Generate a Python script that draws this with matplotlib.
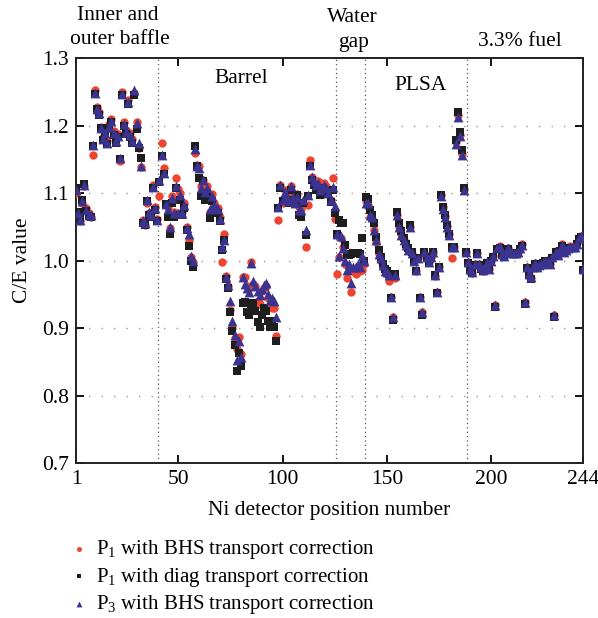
import matplotlib
matplotlib.use("Agg")
import matplotlib.pyplot as plt

plt.rcParams['font.family'] = ['Liberation Serif', 'DejaVu Serif']
plt.rcParams['mathtext.fontset'] = 'custom'
plt.rcParams['mathtext.rm'] = 'Liberation Serif'
plt.rcParams['mathtext.it'] = 'Liberation Serif:italic'

positions = list(range(1, 245))

p3_bhs = [
    1.105, 1.070, 1.060, 1.088, 1.112, 1.075, 1.068, 1.067, 1.171, 1.248,
    1.225, 1.218, 1.196, 1.180, 1.189, 1.174, 1.198, 1.207, 1.189, 1.177,
    1.185, 1.152, 1.247, 1.202, 1.191, 1.235, 1.186, 1.177, 1.253, 1.203,
    1.174, 1.140, 1.058, 1.055, 1.090, 1.072, 1.067, 1.109, 1.078, 1.060,
    1.119, 1.156, 1.129, 1.084, 1.076, 1.050, 1.093, 1.070, 1.110, 1.070,
    1.097, 1.070, 1.082, 1.048, 1.040, 1.006, 1.000, 1.165, 1.140, 1.137,
    1.107, 1.120, 1.102, 1.107, 1.077, 1.095, 1.082, 1.080, 1.077, 1.062,
    1.020, 1.031, 0.976, 0.963, 0.940, 0.910, 0.890, 0.853, 0.881, 0.857,
    0.976, 0.965, 0.960, 0.954, 0.997, 0.969, 0.962, 0.955, 0.949, 0.958,
    0.964, 0.966, 0.951, 0.941, 0.945, 0.940, 0.917, 1.080, 1.112, 1.090,
    1.102, 1.094, 1.088, 1.110, 1.094, 1.085, 1.094, 1.075, 1.075, 1.090,
    1.045, 1.097, 1.141, 1.124, 1.118, 1.112, 1.115, 1.105, 1.107, 1.112,
    1.109, 1.100, 1.090, 1.109, 1.081, 1.039, 1.006, 1.036, 1.018, 1.000,
    0.986, 0.995, 0.966, 0.990, 0.990, 0.995, 0.991, 1.006, 0.999, 1.085,
    1.085, 1.067, 1.065, 1.045, 1.030, 1.010, 1.003, 0.993, 0.985, 0.983,
    0.979, 0.946, 0.916, 0.979, 1.067, 1.049, 1.038, 1.030, 1.023, 1.016,
    1.050, 1.011, 1.000, 0.986, 1.003, 0.946, 0.923, 1.012, 1.005, 0.998,
    1.005, 1.013, 0.979, 0.954, 0.990, 1.095, 1.077, 1.065, 1.050, 1.038,
    1.020, 1.020, 1.173, 1.213, 1.184, 1.156, 1.105, 1.013, 0.998, 0.988,
    0.983, 0.995, 1.011, 0.995, 0.990, 0.986, 0.990, 0.998, 0.988, 1.000,
    1.006, 0.934, 1.018, 1.020, 1.010, 1.006, 1.012, 1.018, 1.012, 1.011,
    1.011, 1.011, 1.012, 1.018, 1.023, 0.939, 0.991, 0.980, 0.976, 0.990,
    0.996, 0.990, 0.993, 0.995, 0.997, 1.000, 1.000, 0.995, 1.005, 0.919,
    1.013, 1.008, 1.015, 1.023, 1.012, 1.015, 1.018, 1.020, 1.020, 1.020,
    1.025, 1.033, 1.036, 0.988,
]

p1_bhs = [
    1.100, 1.065, 1.058, 1.085, 1.110, 1.078, 1.070, 1.065, 1.156, 1.252,
    1.228, 1.220, 1.198, 1.183, 1.192, 1.177, 1.202, 1.210, 1.192, 1.180,
    1.188, 1.148, 1.250, 1.205, 1.194, 1.238, 1.189, 1.180, 1.248, 1.205,
    1.166, 1.138, 1.060, 1.052, 1.085, 1.070, 1.070, 1.112, 1.080, 1.062,
    1.096, 1.174, 1.137, 1.083, 1.080, 1.048, 1.095, 1.072, 1.122, 1.106,
    1.100, 1.072, 1.085, 1.050, 1.030, 1.005, 0.998, 1.160, 1.142, 1.140,
    1.110, 1.120, 1.104, 1.110, 1.072, 1.098, 1.085, 1.080, 1.078, 1.065,
    0.998, 1.039, 0.977, 0.962, 0.926, 0.900, 0.885, 0.869, 0.886, 0.862,
    0.975, 0.975, 0.962, 0.960, 0.998, 0.965, 0.962, 0.940, 0.935, 0.955,
    0.960, 0.962, 0.945, 0.932, 0.930, 0.930, 0.888, 1.060, 1.112, 1.085,
    1.104, 1.098, 1.090, 1.110, 1.094, 1.090, 1.098, 1.080, 1.076, 1.085,
    1.020, 1.082, 1.149, 1.124, 1.120, 1.115, 1.118, 1.108, 1.110, 1.115,
    1.110, 1.105, 1.090, 1.122, 1.061, 0.980, 1.005, 1.033, 1.020, 0.995,
    0.974, 0.990, 0.954, 0.985, 0.980, 0.992, 0.985, 0.986, 0.995, 1.088,
    1.082, 1.065, 1.062, 1.045, 1.028, 1.010, 1.000, 0.990, 0.985, 0.980,
    0.970, 0.946, 0.917, 0.974, 1.068, 1.050, 1.040, 1.030, 1.022, 1.015,
    1.050, 1.010, 1.000, 0.984, 1.003, 0.946, 0.923, 1.012, 1.005, 0.998,
    1.005, 1.013, 0.977, 0.954, 0.990, 1.097, 1.079, 1.066, 1.051, 1.039,
    1.004, 1.020, 1.175, 1.215, 1.186, 1.158, 1.106, 1.013, 0.998, 0.986,
    0.981, 0.995, 1.011, 0.995, 0.988, 0.984, 0.990, 0.998, 0.988, 1.000,
    1.006, 0.934, 1.019, 1.021, 1.010, 1.006, 1.012, 1.019, 1.012, 1.011,
    1.011, 1.011, 1.013, 1.019, 1.024, 0.939, 0.990, 0.978, 0.974, 0.990,
    0.996, 0.990, 0.993, 0.995, 0.997, 1.000, 1.001, 0.995, 1.005, 0.919,
    1.014, 1.008, 1.015, 1.024, 1.012, 1.015, 1.018, 1.021, 1.020, 1.021,
    1.026, 1.034, 1.037, 0.988,
]

p1_diag = [
    1.108, 1.072, 1.062, 1.090, 1.113, 1.073, 1.066, 1.064, 1.170, 1.246,
    1.225, 1.216, 1.196, 1.178, 1.187, 1.172, 1.196, 1.205, 1.186, 1.174,
    1.183, 1.150, 1.245, 1.200, 1.188, 1.232, 1.183, 1.174, 1.245, 1.195,
    1.167, 1.152, 1.056, 1.053, 1.088, 1.068, 1.064, 1.107, 1.075, 1.058,
    1.117, 1.155, 1.128, 1.083, 1.065, 1.040, 1.085, 1.064, 1.108, 1.068,
    1.090, 1.068, 1.078, 1.045, 1.022, 1.000, 0.991, 1.169, 1.140, 1.122,
    1.095, 1.118, 1.089, 1.100, 1.063, 1.088, 1.075, 1.072, 1.070, 1.058,
    1.015, 1.030, 0.972, 0.960, 0.923, 0.896, 0.875, 0.836, 0.863, 0.843,
    0.937, 0.938, 0.923, 0.919, 0.930, 0.937, 0.925, 0.909, 0.902, 0.920,
    0.930, 0.925, 0.910, 0.902, 0.910, 0.902, 0.881, 1.078, 1.108, 1.088,
    1.090, 1.090, 1.085, 1.105, 1.089, 1.086, 1.097, 1.067, 1.064, 1.085,
    1.038, 1.095, 1.140, 1.120, 1.112, 1.105, 1.108, 1.097, 1.100, 1.105,
    1.103, 1.098, 1.087, 1.105, 1.070, 1.040, 1.060, 1.055, 1.055, 1.023,
    1.008, 1.008, 1.010, 1.011, 1.011, 1.011, 1.010, 1.033, 1.000, 1.094,
    1.091, 1.075, 1.068, 1.055, 1.035, 1.015, 1.005, 0.995, 0.988, 0.985,
    0.980, 0.944, 0.912, 0.980, 1.072, 1.055, 1.043, 1.033, 1.025, 1.018,
    1.052, 1.012, 1.000, 0.985, 1.003, 0.944, 0.920, 1.012, 1.005, 0.998,
    1.005, 1.013, 0.979, 0.952, 0.990, 1.097, 1.079, 1.067, 1.052, 1.040,
    1.020, 1.020, 1.178, 1.220, 1.191, 1.163, 1.108, 1.013, 0.996, 0.986,
    0.981, 0.994, 1.011, 0.994, 0.988, 0.984, 0.989, 0.997, 0.987, 0.999,
    1.005, 0.931, 1.017, 1.019, 1.009, 1.005, 1.011, 1.017, 1.011, 1.010,
    1.010, 1.010, 1.011, 1.017, 1.022, 0.936, 0.989, 0.978, 0.973, 0.989,
    0.995, 0.989, 0.992, 0.994, 0.996, 0.999, 0.999, 0.994, 1.004, 0.916,
    1.012, 1.007, 1.014, 1.022, 1.011, 1.014, 1.017, 1.019, 1.019, 1.019,
    1.024, 1.032, 1.035, 0.986,
]

series_labels = [r"P$_1$ with BHS transport correction",
                 r"P$_1$ with diag transport correction",
                 r"P$_3$ with BHS transport correction"]
region_bounds = [40.5, 125.5, 139.5, 188.5]
x_ticks = [1, 50, 100, 150, 200, 244]
y_ticks = [0.7, 0.8, 0.9, 1.0, 1.1, 1.2, 1.3]

W, H = 598, 618
FS = 15.5
fig = plt.figure(figsize=(W / 100, H / 100), dpi=100)
ax = fig.add_axes([76 / W, 1 - 463 / H, (583 - 76) / W, (463 - 58) / H])

red = '#EE4430'
blk = '#1E1E1E'
blu = '#3A3390'

ax.scatter(positions, p1_bhs, s=36, marker='o', color=red, linewidths=0, zorder=3, label=series_labels[0])
ax.scatter(positions, p1_diag, s=30, marker='s', color=blk, linewidths=0, zorder=4, label=series_labels[1])
ax.scatter(positions, p3_bhs, s=50, marker='^', color=blu, linewidths=0, zorder=5, label=series_labels[2])

for yv in y_ticks[1:-1]:
    ax.axhline(yv, color='#9a9a9a', lw=1.0, ls=(0, (1, 8)), zorder=1)
for xb in region_bounds:
    ax.axvline(xb, color='#555555', lw=0.9, ls=(0, (1, 2.5)), zorder=1)

ax.set_xlim(1, 244)
ax.set_ylim(0.7, 1.3)
ax.set_xticks(x_ticks)
ax.set_yticks(y_ticks)
ax.set_yticklabels([f"{v:.1f}" for v in y_ticks])
ax.tick_params(direction='in', top=True, right=True, length=6, width=1.3, labelsize=FS, pad=5)
for sp in ax.spines.values():
    sp.set_linewidth(1.4)
    sp.set_color('#222222')

ax.set_xlabel("Ni detector position number", fontsize=FS, labelpad=9)
ax.set_ylabel("C/E value", fontsize=FS, labelpad=7)

ax.text(80.0, 1.27, "Barrel", fontsize=FS, ha='center', va='center')
ax.text(166, 1.26, "PLSA", fontsize=FS, ha='center', va='center')

def ftext(px, py, s):
    fig.text(px / W, 1 - py / H, s, fontsize=FS, ha='center', va='center')

ftext(118, 15, "Inner and")
ftext(120, 40, "outer baffle")
ftext(352, 17, "Water")
ftext(354, 42, "gap")
ftext(520, 42, "3.3% fuel")

leg = fig.legend(loc='upper left', bbox_to_anchor=(58 / W, 1 - 530 / H), frameon=False,
                 fontsize=15, handletextpad=0.2, labelspacing=0.22, markerscale=0.6,
                 borderaxespad=0, handlelength=1.2)

fig.savefig("out.png", dpi=100)
